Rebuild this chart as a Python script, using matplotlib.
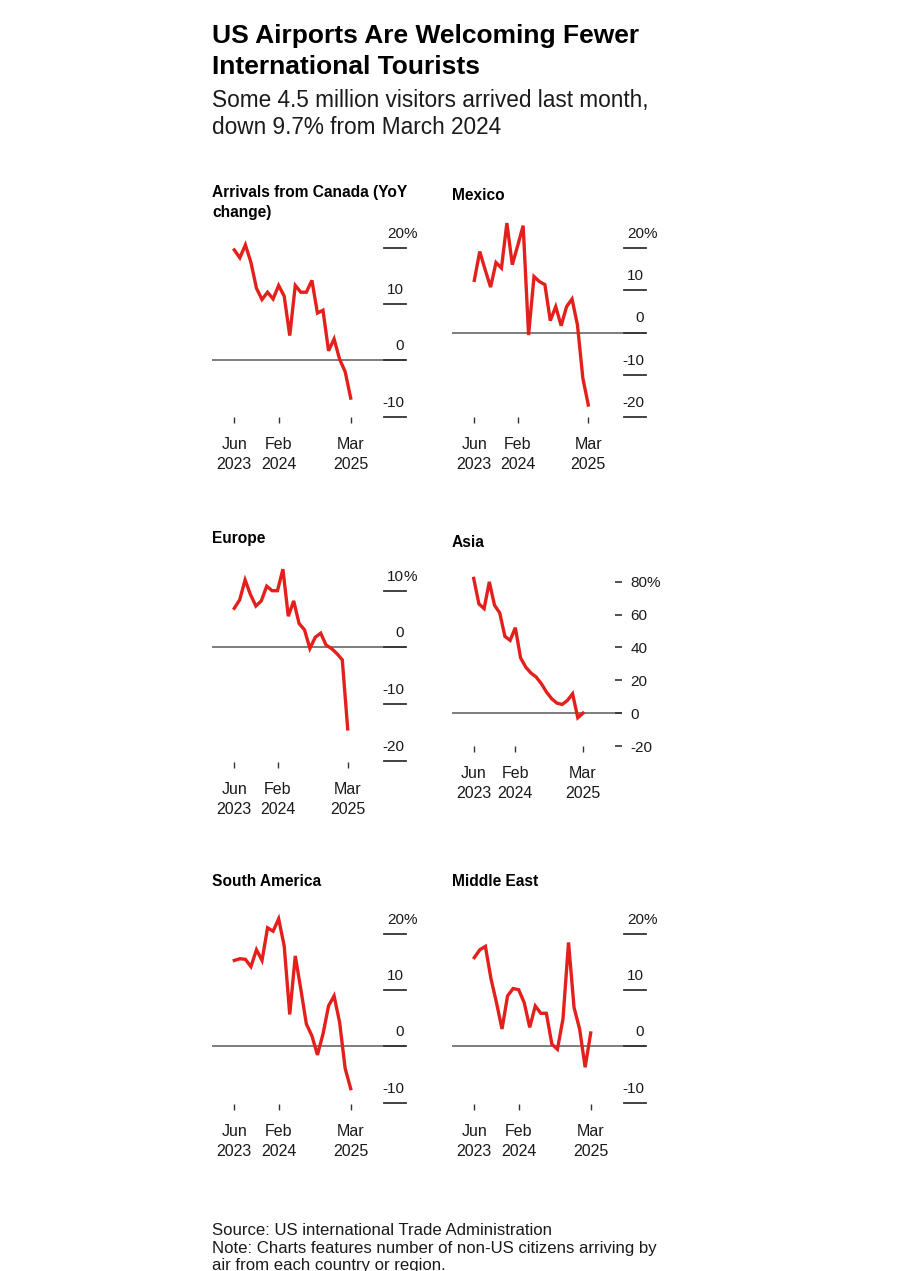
"""US airports: YoY change in international arrivals, six small panels."""

import matplotlib.pyplot as plt
import numpy as np

W, H = 924, 1271
RED = "#e3201b"
INK = "#1a1a1a"
FONT = ["Liberation Sans", "DejaVu Sans"]

# Monthly YoY change (%), Jun 2023 .. Mar 2025
months = np.arange(22)
tick_idx = [0, 8, 21]
tick_labels = ["Jun\n2023", "Feb\n2024", "Mar\n2025"]

canada = [19.6, 18.2, 20.5, 17.4, 12.8, 10.8, 12.1, 10.9, 13.3, 11.4, 4.4,
          13.3, 12.1, 12.1, 14.2, 8.4, 8.9, 1.7, 3.8, 0.2, -2.0, -6.7]
mexico = [12.3, 19.1, 14.8, 10.7, 16.5, 15.2, 25.8, 16.0, 20.5, 25.2, -0.6,
          13.2, 12.0, 11.3, 2.8, 6.1, 1.6, 6.1, 7.9, 1.8, -10.8, -17.1]
europe = [6.9, 8.4, 11.9, 9.3, 7.3, 8.2, 10.8, 10.0, 10.0, 13.8, 5.5,
          8.2, 4.2, 3.1, -0.2, 1.8, 2.5, 0.4, -0.2, -1.1, -2.2, -14.4]
asia = [82.0, 66.5, 63.6, 79.9, 65.7, 61.0, 46.7, 44.3, 52.0, 33.7, 28.0,
        24.4, 22.0, 17.9, 12.8, 8.7, 6.1, 5.3, 7.7, 11.8, -2.8, 0.0]
south_america = [15.3, 15.6, 15.5, 14.2, 17.2, 15.3, 21.1, 20.5, 22.7, 17.9, 5.7,
                 16.1, 10.2, 4.0, 1.9, -1.5, 2.2, 7.2, 9.0, 4.3, -3.9, -7.5]
middle_east = [15.8, 17.2, 17.8, 12.1, 7.8, 3.1, 9.0, 10.3, 10.1, 7.8, 3.4,
               7.2, 5.9, 5.9, 0.4, -0.5, 4.9, 18.5, 6.9, 3.1, -3.7, 2.4]

ticks_20 = [20, 10, 0, -10]
ticks_mexico = [20, 10, 0, -10, -20]
ticks_europe = [10, 0, -10, -20]
ticks_asia = [80, 60, 40, 20, 0, -20]

plt.rcParams["font.family"] = FONT

fig = plt.figure(figsize=(W / 100, H / 100), dpi=100)
fig.patch.set_facecolor("white")


def fx(px):
    return px / W


def fy(py):
    return 1 - py / H


def panel(values, yticks, box, xpix, ypix, style="bar"):
    # box = (left, top, right, bottom) in pixels; xpix = pixel x of first/last month;
    # ypix = two (value, pixel y) pairs used to set the vertical scale
    left, top, right, bottom = box
    ax = fig.add_axes([fx(left), fy(bottom), (right - left) / W, (bottom - top) / H])
    ppm = (xpix[1] - xpix[0]) / 21
    ax.set_xlim(-(xpix[0] - left) / ppm, 21 + (right - xpix[1]) / ppm)
    (va, pa), (vb, pb) = ypix
    ppu = (pb - pa) / (va - vb)
    ax.set_ylim(vb - (bottom - pb) / ppu, va + (pa - top) / ppu)

    ax.axhline(0, color="#737373", lw=1.3, zorder=1)
    ax.plot(months, values, color=RED, lw=2.4, zorder=3, solid_joinstyle="miter")

    for s in ax.spines.values():
        s.set_visible(False)
    ax.set_facecolor("none")

    ax.set_xticks(tick_idx)
    ax.set_xticklabels(tick_labels, fontsize=11.5, color=INK, linespacing=1.45)
    ax.tick_params(axis="x", direction="in", length=4.3, width=1.0, color="#333333",
                   pad=10)

    width_px = right - left
    if style == "bar":
        ax.set_yticks([])
        tr = ax.get_yaxis_transform()
        for i, v in enumerate(yticks):
            ax.plot([1 - 22 / width_px, 1], [v, v], transform=tr, color="#333333",
                    lw=1.3, clip_on=False)
            ax.annotate(str(v), xy=(1 - 2 / width_px, v), xycoords=tr,
                        xytext=(0, 10), textcoords="offset pixels", ha="right",
                        va="baseline", fontsize=11, color=INK)
            if i == 0:
                ax.annotate("%", xy=(1 - 2 / width_px, v), xycoords=tr,
                            xytext=(0, 10), textcoords="offset pixels", ha="left",
                            va="baseline", fontsize=11, color=INK)
    else:
        ax.yaxis.tick_right()
        ax.set_yticks(yticks)
        ax.set_yticklabels([f"{v}%" if i == 0 else str(v) for i, v in enumerate(yticks)],
                           fontsize=11, color=INK)
        ax.tick_params(axis="y", direction="in", length=5, width=1.2,
                       color="#333333", pad=6.5)
    return ax


panel(canada, ticks_20, (212, 222, 406, 423), (234.3, 350.7), ((20, 247.7), (-10, 416.7)))
panel(mexico, ticks_mexico, (452, 218, 646, 423), (474.3, 588.3), ((20, 247.7), (-20, 417.3)))
panel(europe, ticks_europe, (212, 565, 406, 768), (234.3, 347.7), ((10, 590.7), (-20, 760.7)))
panel(asia, ticks_asia, (452, 572, 621.7, 752), (473.7, 583.0), ((80, 581.7), (-20, 746.0)),
      style="dash")
panel(south_america, ticks_20, (212, 912, 406, 1110), (234.3, 350.7), ((20, 934), (-10, 1102.7)))
panel(middle_east, ticks_20, (452, 912, 646, 1110), (474.3, 590.7), ((20, 934), (-10, 1102.7)))

# Headline and dek
fig.text(fx(212), fy(43.5), "US Airports Are Welcoming Fewer", fontsize=19,
         fontweight="bold", color="black", va="baseline")
fig.text(fx(212), fy(74), "International Tourists", fontsize=19,
         fontweight="bold", color="black", va="baseline")
fig.text(fx(212), fy(107), "Some 4.5 million visitors arrived last month,",
         fontsize=16.3, color=INK, va="baseline")
fig.text(fx(212), fy(134), "down 9.7% from March 2024",
         fontsize=16.3, color=INK, va="baseline")

# Panel titles
titles = [
    (212, 196.5, "Arrivals from Canada (YoY"),
    (212, 216.5, "change)"),
    (452, 200, "Mexico"),
    (212, 543, "Europe"),
    (452, 547, "Asia"),
    (212, 886, "South America"),
    (452, 886, "Middle East"),
]
for x, y, t in titles:
    fig.text(fx(x), fy(y), t, fontsize=11.2, fontweight="bold", color="black",
             va="baseline")

# Footer (last line runs off the bottom edge, as in the source image)
footer = [
    (1235, "Source: US international Trade Administration"),
    (1253, "Note: Charts features number of non-US citizens arriving by"),
    (1270, "air from each country or region."),
]
for y, t in footer:
    fig.text(fx(212), fy(y), t, fontsize=12.1, color=INK, va="baseline")

fig.savefig("out.png", dpi=100, facecolor="white")
